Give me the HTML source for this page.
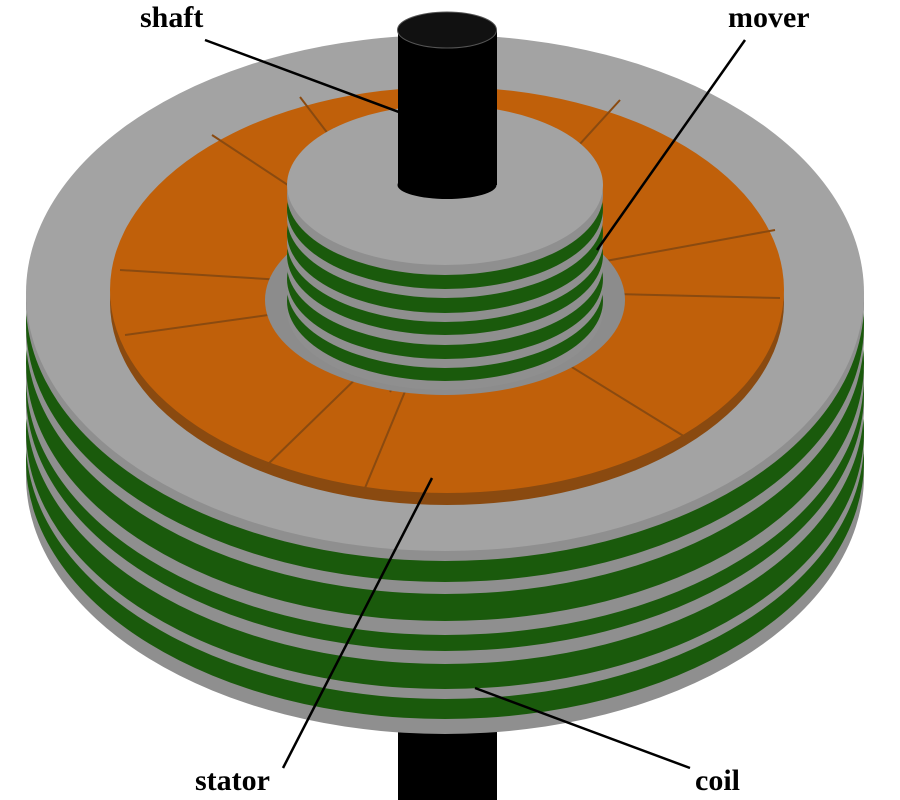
<!DOCTYPE html>
<html><head><meta charset="utf-8"><style>
html,body{margin:0;padding:0;background:#fff;}
svg{display:block;}
text{font-family:"Liberation Serif",serif;font-weight:bold;font-size:30px;fill:#000;}
</style></head><body>
<svg width="900" height="800" viewBox="0 0 900 800" xmlns="http://www.w3.org/2000/svg">
<rect x="398" y="700" width="99" height="100" fill="#000"/>
<g>
<ellipse cx="445" cy="476" rx="419" ry="258" fill="#8f8f8f"/>
<ellipse cx="445" cy="461" rx="419" ry="258" fill="#1a5a0c"/>
<ellipse cx="445" cy="441" rx="419" ry="258" fill="#8f8f8f"/>
<ellipse cx="445" cy="431" rx="419" ry="258" fill="#1a5a0c"/>
<ellipse cx="445" cy="406" rx="419" ry="258" fill="#8f8f8f"/>
<ellipse cx="445" cy="393" rx="419" ry="258" fill="#1a5a0c"/>
<ellipse cx="445" cy="377" rx="419" ry="258" fill="#8f8f8f"/>
<ellipse cx="445" cy="363" rx="419" ry="258" fill="#1a5a0c"/>
<ellipse cx="445" cy="336" rx="419" ry="258" fill="#8f8f8f"/>
<ellipse cx="445" cy="324" rx="419" ry="258" fill="#1a5a0c"/>
<ellipse cx="445" cy="303" rx="419" ry="258" fill="#8f8f8f"/>
<ellipse cx="445" cy="293" rx="419" ry="258" fill="#a3a3a3"/>
</g>
<ellipse cx="447" cy="302" rx="337" ry="203" fill="#8a4a10"/>
<ellipse cx="447" cy="290" rx="337" ry="203" fill="#c0600a"/>
<g stroke="#8a4a10" stroke-width="2">
<line x1="447" y1="290" x2="120" y2="270"/>
<line x1="447" y1="290" x2="125" y2="335"/>
<line x1="447" y1="290" x2="212" y2="135"/>
<line x1="447" y1="290" x2="300" y2="97"/>
<line x1="447" y1="290" x2="262" y2="470"/>
<line x1="447" y1="290" x2="390" y2="392"/>
<line x1="447" y1="290" x2="365" y2="488"/>
<line x1="447" y1="290" x2="565" y2="370"/>
<line x1="447" y1="290" x2="690" y2="440"/>
<line x1="447" y1="290" x2="775" y2="230"/>
<line x1="447" y1="290" x2="780" y2="298"/>
<line x1="447" y1="290" x2="620" y2="100"/>
</g>
<ellipse cx="445" cy="300" rx="180" ry="95" fill="#8c8c8c"/>
<g>
<ellipse cx="445" cy="310" rx="158" ry="80" fill="#8f8f8f"/>
<ellipse cx="445" cy="301" rx="158" ry="80" fill="#1a5a0c"/>
<ellipse cx="445" cy="288" rx="158" ry="80" fill="#8f8f8f"/>
<ellipse cx="445" cy="279" rx="158" ry="80" fill="#1a5a0c"/>
<ellipse cx="445" cy="265" rx="158" ry="80" fill="#8f8f8f"/>
<ellipse cx="445" cy="255" rx="158" ry="80" fill="#1a5a0c"/>
<ellipse cx="445" cy="242" rx="158" ry="80" fill="#8f8f8f"/>
<ellipse cx="445" cy="233" rx="158" ry="80" fill="#1a5a0c"/>
<ellipse cx="445" cy="218" rx="158" ry="80" fill="#8f8f8f"/>
<ellipse cx="445" cy="209" rx="158" ry="80" fill="#1a5a0c"/>
<ellipse cx="445" cy="195" rx="158" ry="80" fill="#8f8f8f"/>
<ellipse cx="445" cy="185" rx="158" ry="80" fill="#a3a3a3"/>
</g>
<rect x="398" y="30" width="99" height="155" fill="#000"/>
<ellipse cx="447" cy="185" rx="49.5" ry="14" fill="#000"/>
<ellipse cx="447" cy="30" rx="49.5" ry="18" fill="#111" stroke="#555" stroke-width="1"/>
<g stroke="#000" stroke-width="2.5" fill="none">
<line x1="205" y1="40" x2="415" y2="118"/>
<line x1="745" y1="40" x2="597" y2="250"/>
<line x1="283" y1="768" x2="432" y2="478"/>
<line x1="690" y1="768" x2="475" y2="688"/>
</g>
<text x="140" y="27">shaft</text>
<text x="728" y="27">mover</text>
<text x="195" y="790">stator</text>
<text x="695" y="790">coil</text>
</svg>
</body></html>
